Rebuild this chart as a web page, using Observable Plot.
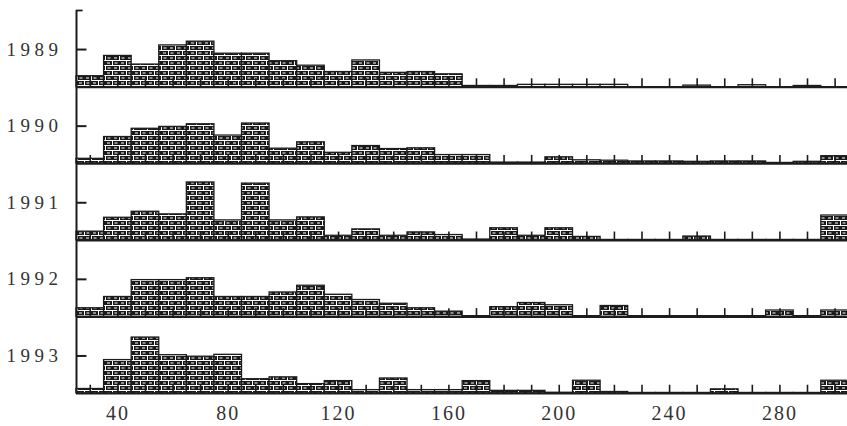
<!DOCTYPE html>
<html><head><meta charset="utf-8">
<script src="https://cdn.jsdelivr.net/npm/d3@7"></script>
<script src="https://cdn.jsdelivr.net/npm/@observablehq/plot@0.6"></script>
<style>
html,body{margin:0;padding:0;background:#fff;}
</style></head><body><div id="chart"></div>
<script>
const years = [1989, 1990, 1991, 1992, 1993];
const binCenters = [30,40,50,60,70,80,90,100,110,120,130,140,150,160,170,180,190,200,210,220,230,240,250,260,270,280,290,300];
const binWidth = 10;
const xTicks = [40, 80, 120, 160, 200, 240, 280];
const yearTickValue = 10;   // the marked level on each panel's axis
const panelSpan = 20.4;     // value range shown by each stacked panel
const binTickHeight = 2.2;

const v1989 = [2.9, 8.3, 6.0, 11.1, 12.1, 8.9, 8.9, 6.9, 5.7, 4.0, 7.1, 3.8, 4.0, 3.4, 0.3, 0.3, 0.6, 0.6, 0.6, 0.6, 0, 0, 0.4, 0, 0.5, 0, 0.3, 0];
const v1990 = [1.3, 7.1, 9.3, 9.8, 10.5, 7.5, 10.7, 4.0, 5.7, 2.9, 4.7, 3.9, 4.1, 2.3, 2.3, 0.3, 0.3, 1.7, 0.9, 0.8, 0.6, 0.6, 0.5, 0.6, 0.6, 0.2, 0.5, 2.0];
const v1991 = [2.3, 6.0, 7.6, 6.9, 15.4, 5.3, 15.1, 5.3, 6.1, 1.2, 2.9, 1.2, 2.1, 1.4, 0.2, 3.2, 1.2, 3.2, 0.9, 0.1, 0.1, 0.1, 1.0, 0.1, 0.1, 0.1, 0.1, 6.6];
const v1992 = [2.3, 5.3, 9.8, 9.8, 10.3, 5.3, 5.3, 6.5, 8.3, 5.9, 4.5, 3.5, 2.3, 1.4, 0.2, 2.6, 3.7, 3.1, 0.2, 2.9, 0.2, 0.2, 0.2, 0.2, 0.2, 1.7, 0.2, 1.7];
const v1993 = [1.2, 8.9, 14.9, 10.2, 9.8, 10.3, 3.8, 4.3, 2.5, 3.3, 0.9, 4.0, 0.9, 0.9, 3.3, 0.7, 0.7, 0.2, 3.4, 0.4, 0.15, 0.15, 0.15, 1.1, 0.15, 0.15, 0.15, 3.4];
const series = [v1989, v1990, v1991, v1992, v1993];

// each year gets its own baseline, stacked top (1989) to bottom (1993)
const base = years.map((yr, i) => ({year: yr, b: (years.length - 1 - i) * panelSpan}));
const rows = [];
years.forEach((yr, i) => series[i].forEach((v, j) => rows.push({
  year: yr, x1: binCenters[j] - binWidth / 2, x2: binCenters[j] + binWidth / 2,
  y1: base[i].b, y2: base[i].b + v
})));
const tickRows = [];
base.forEach(d => binCenters.forEach(c => tickRows.push({x: c, y1: d.b, y2: d.b + binTickHeight})));

const ink = "#1c1c1c";
const plot = Plot.plot({
  width: 847, height: 426,
  marginLeft: 76, marginRight: 0, marginTop: 10, marginBottom: 33,
  style: {background: "#fff", fontFamily: "'Liberation Serif', serif", fontSize: "20px", color: "#333", letterSpacing: "2px"},
  x: {domain: [25, 304.5], ticks: xTicks, tickSize: 0, tickPadding: 12, tickFormat: d => String(d), label: null},
  y: {domain: [0, panelSpan * years.length], axis: null},
  marks: [
    Plot.rect(rows, {x1: "x1", x2: "x2", y1: "y1", y2: "y2", fill: "url(#brick)", stroke: ink, strokeWidth: 1.3}),
    Plot.ruleY(base, {y: "b", stroke: ink, strokeWidth: 2.2}),
    Plot.ruleX(tickRows, {x: "x", y1: "y1", y2: "y2", stroke: ink, strokeWidth: 1.6}),
    Plot.ruleX([25], {stroke: ink, strokeWidth: 2}),
    Plot.ruleY(base, {y: d => d.b + yearTickValue, x1: 25, x2: 28.8, stroke: ink, strokeWidth: 2}),
    Plot.ruleY([panelSpan * years.length], {x1: 25, x2: 27.4, stroke: ink, strokeWidth: 1.8}),
    Plot.text(base, {y: d => d.b + yearTickValue, text: d => String(d.year), frameAnchor: "left", textAnchor: "end", dx: -14, fontSize: 19, fill: "#333"})
  ]
});

const svg = d3.select(plot);
svg.selectAll("g[aria-label='text'] text").style("letter-spacing", "4.5px");
const defs = svg.insert("defs", ":first-child");
const p = defs.append("pattern").attr("id", "brick").attr("patternUnits", "userSpaceOnUse")
  .attr("width", 14).attr("height", 10);
p.append("rect").attr("x", 0).attr("y", 0).attr("width", 14).attr("height", 10).attr("fill", "#1a1a1a");
const white = (x, y, w, h) => p.append("rect").attr("x", x).attr("y", y).attr("width", w).attr("height", h).attr("fill", "#ffffff");
white(0, 0, 14, 1);
white(0, 5, 14, 1);
white(0, 0, 1, 5);
white(7, 5, 1, 5);
white(2.5, 2.5, 3, 1);
white(9, 2.5, 3, 1);
white(9.5, 7.5, 3, 1);
white(2, 7.5, 3, 1);

document.getElementById("chart").appendChild(plot);
</script>
</body></html>
